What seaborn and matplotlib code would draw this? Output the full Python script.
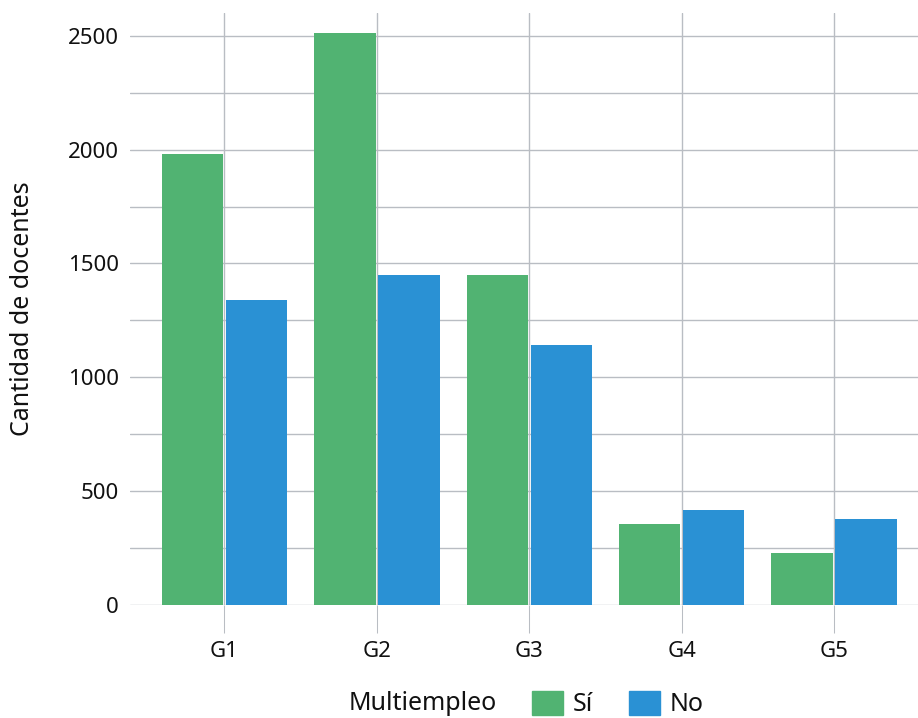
import matplotlib
matplotlib.use("Agg")
import matplotlib.pyplot as plt
import seaborn as sns
import pandas as pd

grupos = ["G1", "G2", "G3", "G4", "G5"]
multiempleo_si = [1980, 2513, 1450, 356, 228]
multiempleo_no = [1340, 1450, 1142, 417, 378]
niveles = ["Sí", "No"]
colores = {"Sí": "#51b372", "No": "#2a91d4"}
y_ticks = [0, 500, 1000, 1500, 2000, 2500]

df = pd.DataFrame({
    "grupo": grupos * 2,
    "multiempleo": ["Sí"] * len(grupos) + ["No"] * len(grupos),
    "docentes": multiempleo_si + multiempleo_no,
})

sns.set_style("white")
plt.rcParams['font.family'] = ['Noto Sans', 'DejaVu Sans']
plt.rcParams['text.color'] = '#111111'
plt.rcParams['axes.labelcolor'] = '#111111'

fig = plt.figure(figsize=(9.18, 7.18), dpi=100)
ax = fig.add_axes([130 / 918, 113 / 718, 788 / 918, 592 / 718])

sns.barplot(data=df, x="grupo", y="docentes", hue="multiempleo",
            hue_order=niveles, palette=colores, width=0.84, gap=0.04,
            saturation=1, linewidth=0, ax=ax, zorder=3, legend=False)

grid_color = "#b9bdc3"
ax.set_ylim(0, 2600)
ax.set_xlim(-0.62, 4.55)
ax.set_yticks(y_ticks)
ax.set_yticks(range(250, 2600, 500), minor=True)
ax.grid(True, which="both", axis="y", color=grid_color, linewidth=1, zorder=0)
ax.grid(True, which="major", axis="x", color=grid_color, linewidth=1, zorder=0)
ax.set_axisbelow(True)
for s in ["top", "bottom", "left", "right"]:
    ax.spines[s].set_visible(False)

ax.tick_params(axis="y", which="both", left=False, length=0, pad=8,
               labelsize=16, labelcolor="#111111")
ax.tick_params(axis="x", bottom=True, length=20, width=0.75, color=grid_color,
               pad=6, labelsize=16, labelcolor="#111111")
ax.set_xlabel("")
ax.set_ylabel("Cantidad de docentes", fontsize=18, labelpad=24)

# Leyenda horizontal con título a la izquierda
handles = [plt.Rectangle((0, 0), 1, 1, color=colores[n]) for n in niveles]
fig.text(349 / 918, 14 / 718, "Multiempleo", fontsize=18, ha="left", va="center")
fig.legend(handles, niveles, ncol=2, loc="center left",
           bbox_to_anchor=(532 / 918, 14 / 718), frameon=False, fontsize=18,
           handlelength=1.25, handleheight=1.1, handletextpad=0.4,
           columnspacing=1.4, borderpad=0, borderaxespad=0)

fig.savefig("out.png", dpi=100)
